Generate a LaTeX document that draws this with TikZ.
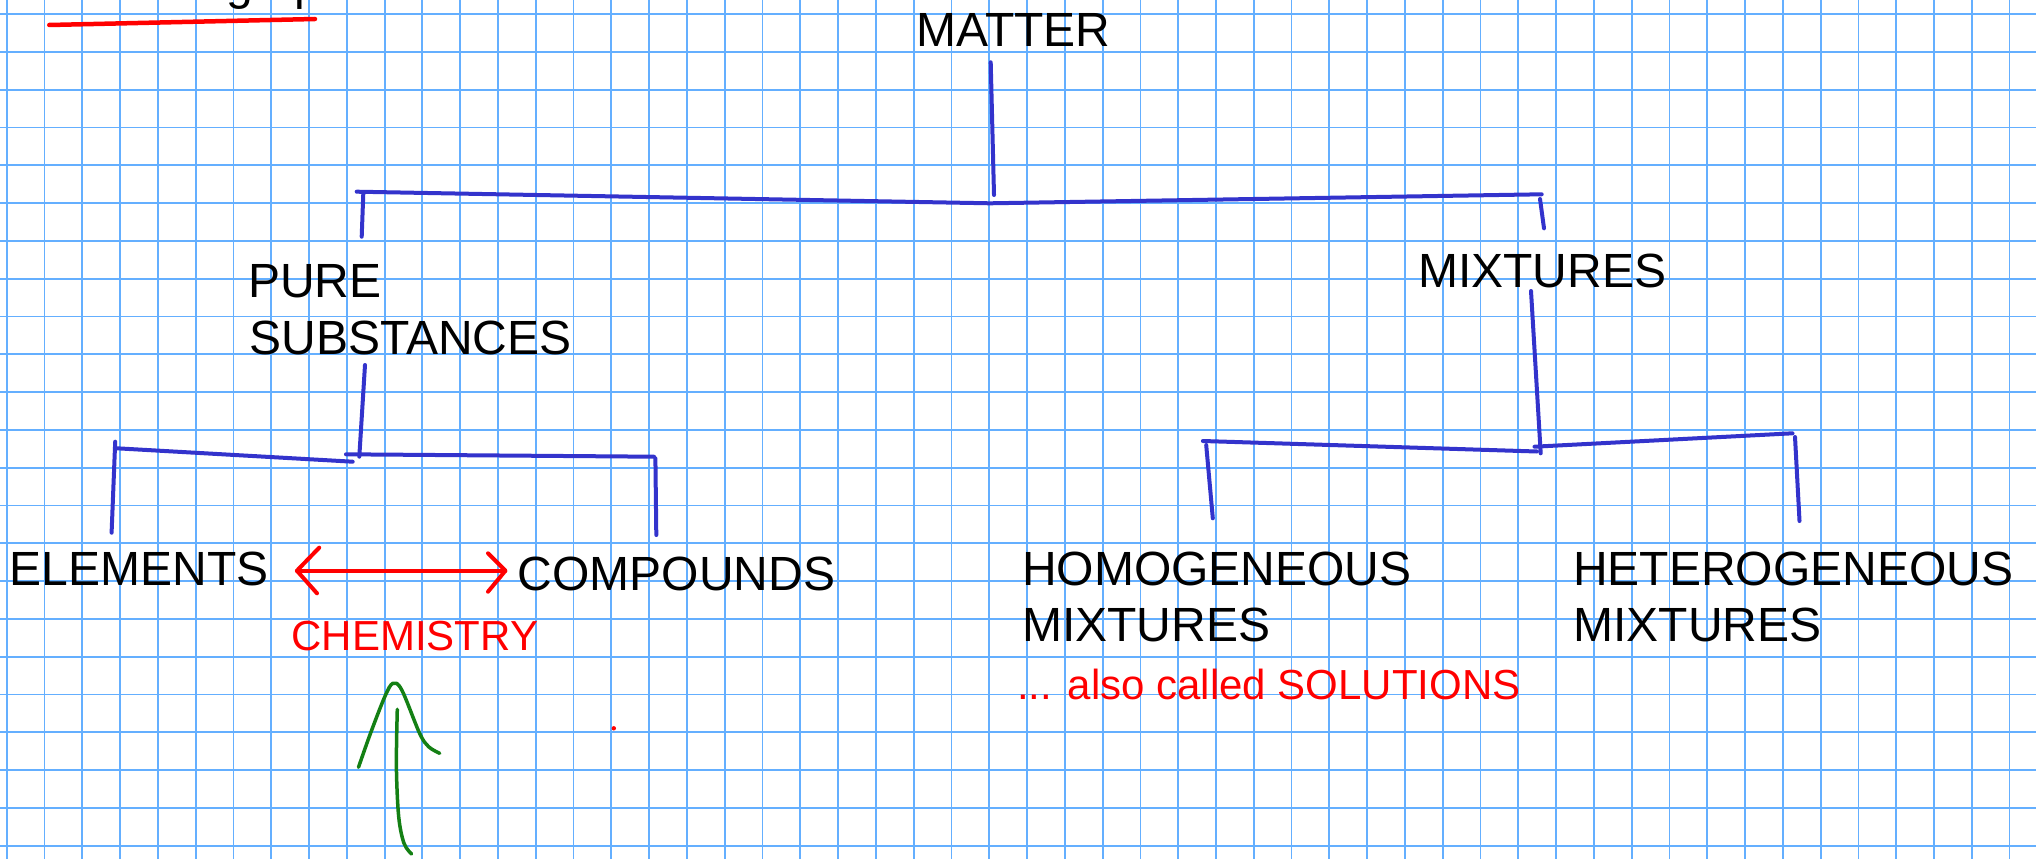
\documentclass[tikz,border=0pt]{standalone}
\usepackage{fontspec}
\setmainfont{Liberation Sans}
\definecolor{gridblue}{RGB}{100,175,255}
\definecolor{pen}{RGB}{51,51,204}
\definecolor{penred}{RGB}{255,0,0}
\definecolor{pengreen}{RGB}{20,128,20}
\tikzset{
  gridline/.style={draw=gridblue, line width=1.8pt},
  bluepen/.style={draw=pen, line width=4pt, line cap=round, line join=round},
  redpen/.style={draw=penred, line width=4pt, line cap=round, line join=round},
  greenpen/.style={draw=pengreen, line width=3.5pt, line cap=round, line join=round},
  lbl/.style={inner sep=0pt, anchor=base west, font=\fontsize{48}{56}\selectfont, text=black},
  redlbl/.style={inner sep=0pt, anchor=base west, font=\fontsize{42}{50}\selectfont, text=penred},
}
\begin{document}
\begin{tikzpicture}[x=1pt,y=-1pt]
\useasboundingbox (0,0) rectangle (2036,859);
\clip (0,0) rectangle (2036,859);
\fill[white] (0,0) rectangle (2036,859);
% grid paper
\foreach \i in {0,...,53} \draw[gridline] ({6.7+37.79*\i},0) -- ({6.7+37.79*\i},859);
\foreach \j in {0,...,22} \draw[gridline] (0,{14+37.8*\j}) -- (2036,{14+37.8*\j});

% cut-off heading at the top and its underline
\node[lbl] (cutg) at (226,0) {g};
\node[lbl] (cutp) at (294,0) {p};
\coordinate (ulA) at (49.3,25);
\coordinate (ulB) at (315,19);
\draw[redpen, line width=4.5pt] (ulA) -- (ulB);

% labels
\node[lbl] (matter) at (916.5,46.7) {MATTER};
\node[lbl] (pure1) at (248,297.7) {PURE};
\node[lbl] (pure2) at (249.5,354) {SUBSTANCES};
\node[lbl] (mix) at (1418,287.3) {MIXTURES};
\node[lbl] (elem) at (9.6,585.7) {ELEMENTS};
\node[lbl] (comp) at (517.6,590.5) {COMPOUNDS};
\node[lbl] (homo1) at (1022,585.5) {HOMOGENEOUS};
\node[lbl] (homo2) at (1022,641.5) {MIXTURES};
\node[lbl] (hete1) at (1573,585.7) {HETEROGENEOUS};
\node[lbl] (hete2) at (1573.3,641.7) {MIXTURES};
\node[redlbl] (chem) at (291.3,650) {CHEMISTRY};
\node[redlbl] (sol) at (1017,699) {... also called SOLUTIONS};

% tree strokes (hand drawn)
\coordinate (mTop) at (990.7,62.3);
\coordinate (mBot) at (994,195);
\coordinate (barL) at (356.7,191.7);
\coordinate (barM) at (990,203.3);
\coordinate (barR) at (1541.7,194.3);
\coordinate (psTop) at (363.3,193.3);
\coordinate (psBot) at (361.7,236.7);
\coordinate (mxTop) at (1540,199);
\coordinate (mxBot) at (1544,228.3);
\draw[bluepen] (mTop) -- (mBot);
\draw[bluepen] (barL) -- (barM) -- (barR);
\draw[bluepen] (psTop) -- (psBot);
\draw[bluepen] (mxTop) -- (mxBot);

\coordinate (psStemA) at (365,365);
\coordinate (psStemB) at (359.3,456.7);
\coordinate (elBarA) at (117,448.3);
\coordinate (elBarB) at (352.7,461.7);
\coordinate (elVA) at (115.2,441.7);
\coordinate (elVB) at (111.6,532.7);
\coordinate (coBarA) at (346,454.3);
\coordinate (coBarB) at (654,456.7);
\coordinate (coVA) at (655.4,458.3);
\coordinate (coVB) at (656.3,535);
\draw[bluepen] (psStemA) -- (psStemB);
\draw[bluepen] (elBarA) -- (elBarB);
\draw[bluepen] (elVA) -- (elVB);
\draw[bluepen] (coBarA) -- (coBarB);
\draw[bluepen] (coVA) -- (coVB);

\coordinate (mxStemA) at (1531,291);
\coordinate (mxStemB) at (1540.7,453.3);
\coordinate (hoBarA) at (1202.9,441);
\coordinate (hoBarB) at (1537,451.5);
\coordinate (hoVA) at (1206.2,445);
\coordinate (hoVB) at (1212.8,518.3);
\coordinate (heBarA) at (1534.5,446.7);
\coordinate (heBarB) at (1792.5,433.3);
\coordinate (heVA) at (1795,437);
\coordinate (heVB) at (1799.5,521);
\draw[bluepen] (mxStemA) -- (mxStemB);
\draw[bluepen] (hoBarA) -- (hoBarB);
\draw[bluepen] (hoVA) -- (hoVB);
\draw[bluepen] (heBarA) -- (heBarB);
\draw[bluepen] (heVA) -- (heVB);

% red double arrow between ELEMENTS and COMPOUNDS
\coordinate (arL) at (296.9,570.7);
\coordinate (arR) at (505.4,570.7);
\draw[redpen] (arL) -- (arR);
\draw[redpen] (319.2,547.7) -- (arL) -- (317,593.3);
\draw[redpen] (488,553.3) -- (arR) -- (488,591.7);

% red dot
\fill[penred] (613.8,728.3) circle (2.2);

% green arrow
\draw[greenpen] plot[smooth, tension=0.55] coordinates {(358.5,767.3) (370.5,733.3) (384.8,696.7) (392.9,683.3) (401.8,690) (419.6,733.3) (428.6,746.7) (439.7,753.3)};
\draw[greenpen] plot[smooth, tension=0.55] coordinates {(397.3,709.3) (396.4,766.7) (398.7,816.7) (404,843.3) (411.6,854)};
\end{tikzpicture}
\end{document}
